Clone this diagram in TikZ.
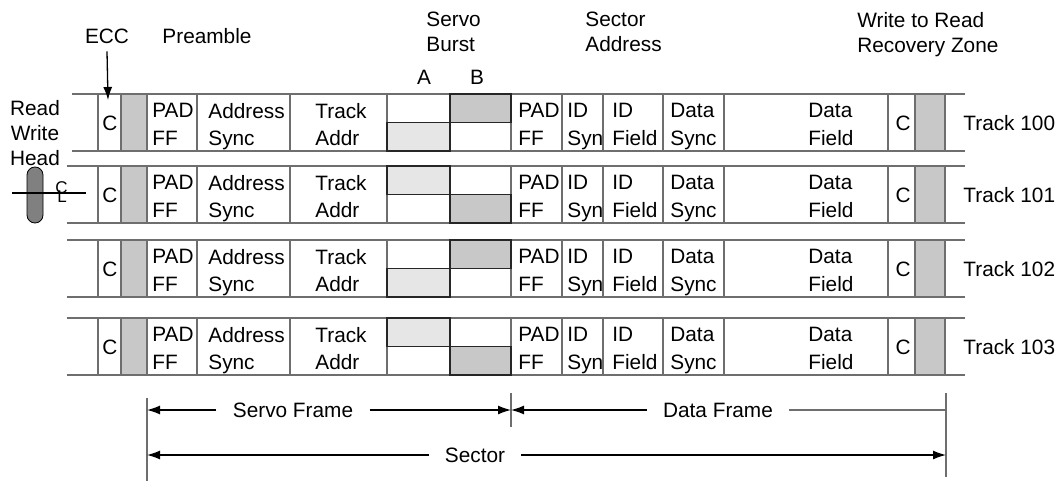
\documentclass[tikz,border=0pt]{standalone}
\usepackage{fontspec}
\setmainfont{Liberation Sans}
\usetikzlibrary{arrows.meta}
\definecolor{slotgray}{HTML}{C8C8C8}
\definecolor{burstlight}{HTML}{E6E6E6}
\definecolor{headgray}{HTML}{808080}
\definecolor{railgray}{HTML}{6E6E6E}
\begin{document}
\begin{tikzpicture}[x=0.5pt,y=-0.5pt,
    font=\fontsize{10.4}{13.7}\selectfont,
    rail/.style={draw=railgray, line width=0.7pt},
    slot/.style={rail, fill=slotgray},
    burst/.style={draw=black!85, line width=0.7pt},
    field/.style={anchor=north west, align=left, inner sep=0pt},
    toplbl/.style={anchor=north west, align=left, inner sep=0pt, font=\fontsize{10.4}{12.5}\selectfont},
    dimlbl/.style={inner xsep=8pt, inner ysep=0pt},
    dimarrow/.style={-{Latex[length=6.5pt,width=4.5pt]}, line width=0.65pt},
    dimline/.style={railgray, line width=0.65pt}]
  \useasboundingbox (0,0) rectangle (1060,481);

  % tracks
  \foreach \t/\ty/\xl/\ao in {100/94/72/28.5, 101/166/67/0, 102/240/67/28.5, 103/318/67/0}{
    \pgfmathsetmacro{\bo}{28.5-\ao}
    \foreach \x in {98,197,290,387,450,511,562,603,663,724,888}
      \draw[rail] (\x,\ty) -- (\x,\ty+57);
    \draw[rail] (\xl,\ty) -- (965,\ty) (\xl,\ty+57) -- (965,\ty+57);
    \draw[slot] (121,\ty) rectangle (147,\ty+57);
    \draw[slot] (915,\ty) rectangle (945,\ty+57);
    \draw[burst, fill=burstlight] (387,\ty+\ao) rectangle (450,\ty+\ao+28.5);
    \draw[burst, fill=slotgray] (450,\ty+\bo) rectangle (511,\ty+\bo+28.5);
    \node (c\t) at (110,\ty+29) {C};
    \node[field] (pad\t) at (152,\ty+9) {PAD\\FF};
    \node[field] (addrsync\t) at (208,\ty+9) {Address\\Sync};
    \node[field] (trackaddr\t) at (315,\ty+9) {Track\\Addr};
    \node[field] (padb\t) at (518,\ty+9) {PAD\\FF};
    \node[field] (idsyn\t) at (567,\ty+9) {ID\\Syn};
    \node[field] (idfield\t) at (612,\ty+9) {ID\\Field};
    \node[field] (datasync\t) at (670,\ty+9) {Data\\Sync};
    \node[field] (datafield\t) at (808,\ty+9) {Data\\Field};
    \node (cb\t) at (903,\ty+29) {C};
    \node[anchor=west, inner sep=0pt] (tracklbl\t) at (963,\ty+29) {Track \t};
  }

  % labels above
  \node[anchor=base] (ecc) at (107,44) {ECC};
  \node[anchor=base] (preamble) at (207,44) {Preamble};
  \node[toplbl] (servoburst) at (426,12) {Servo\\Burst};
  \node[toplbl] (sectoraddr) at (585,12) {Sector\\Address};
  \node[toplbl] (recovery) at (857,12) {Write to Read\\Recovery Zone};
  \node[anchor=base] (burstA) at (424,85) {A};
  \node[anchor=base] (burstB) at (477,85) {B};
  \coordinate (ecctip) at (108,100);
  \draw[dimarrow] (ecc.south) -- (ecctip);

  % read/write head
  \node[toplbl, anchor=north, align=center] (rwhead) at (35,100) {Read\\Write\\Head};
  \node[draw, fill=headgray, rounded corners=4pt, minimum width=8pt,
        minimum height=28pt, inner sep=0pt] (head) at (35,195) {};
  \coordinate (clL) at (12,193);
  \coordinate (clR) at (86,193);
  \draw[line width=0.6pt] (clL) -- (clR);
  \node[inner sep=0pt, font=\fontsize{8.5}{9}\selectfont] (centerline) at (61,192)
    {\rlap{C}\kern0.12em\raisebox{-0.55em}{L}};

  % frames
  \draw[dimline] (147,398) -- (147,481);
  \draw[dimline] (511,393) -- (511,427);
  \draw[dimline] (946,393) -- (946,477);
  \coordinate (sfL) at (147,410);
  \coordinate (sfR) at (511,410);
  \coordinate (dfL) at (511,410);
  \coordinate (dfR) at (946,410);
  \coordinate (secL) at (147,455);
  \coordinate (secR) at (946,455);
  \node[dimlbl] (servoframe) at (293,410) {Servo Frame};
  \draw[dimarrow] (servoframe.west) -- (sfL);
  \draw[dimarrow] (servoframe.east) -- (sfR);
  \node[dimlbl] (dataframe) at (718,410) {Data Frame};
  \draw[dimarrow] (dataframe.west) -- (dfL);
  \draw[dimline] (dataframe.east) -- (dfR);
  \node[dimlbl] (sector) at (475,455) {Sector};
  \draw[dimarrow] (sector.west) -- (secL);
  \draw[dimarrow] (sector.east) -- (secR);
\end{tikzpicture}
\end{document}
